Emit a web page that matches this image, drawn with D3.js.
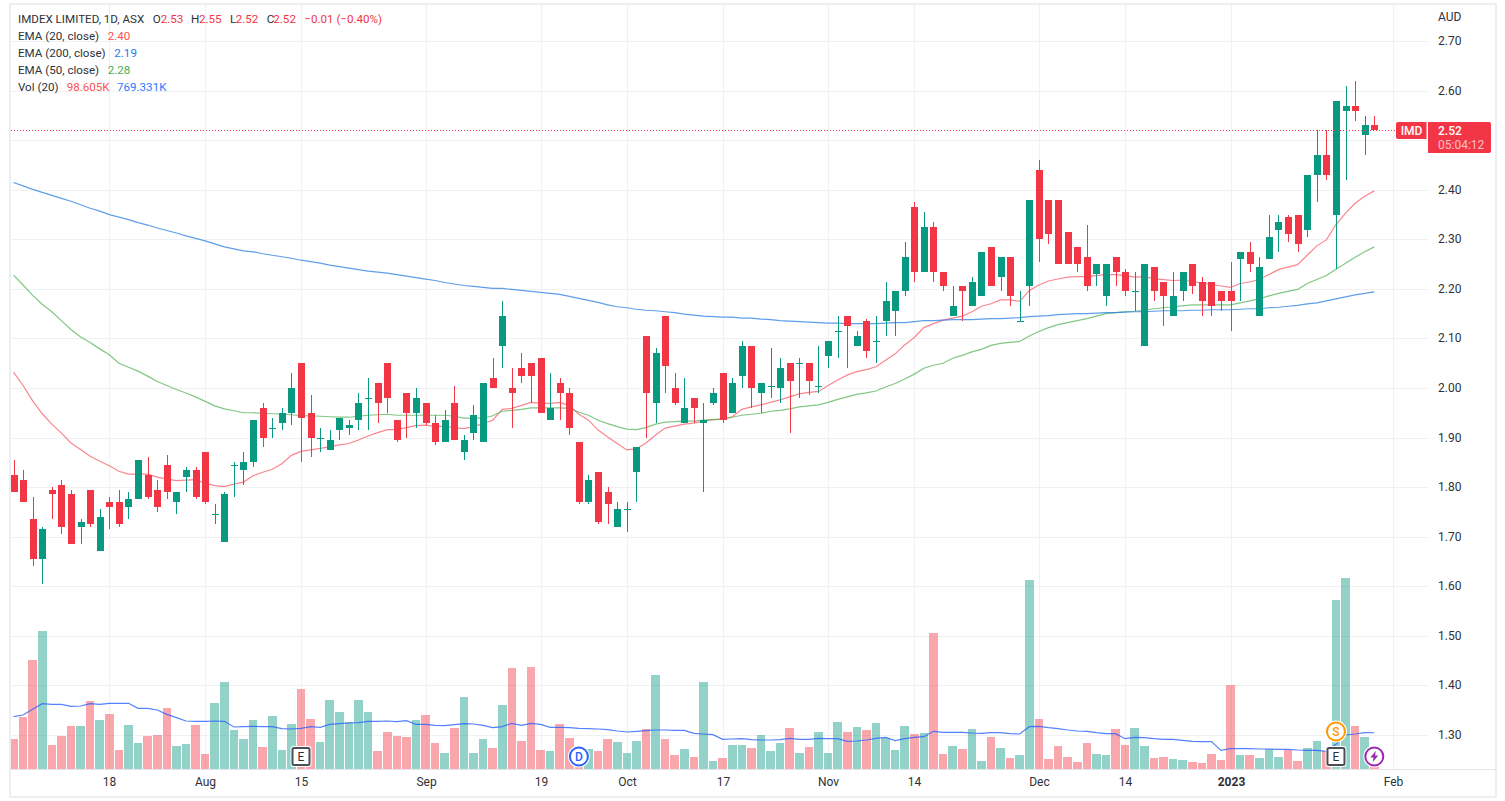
<!DOCTYPE html>
<html>
<head>
<meta charset="utf-8">
<title>IMDEX LIMITED, 1D, ASX</title>
<script src="https://cdnjs.cloudflare.com/ajax/libs/d3/7.8.5/d3.min.js"></script>
<style>
  html, body { margin: 0; padding: 0; background: #fff; overflow: hidden; }
  text { font-family: Roboto, "Open Sans", sans-serif; font-size: 12px; fill: #2e3238; }
  .axis .domain { display: none; }
  .axis line { stroke: #f0f1f3; shape-rendering: crispEdges; }
</style>
</head>
<body>
<div id="chart"></div>
<script>
// daily prices, one entry per trading day
var opens = [
  1.825,1.815,1.735,1.655,1.795,1.805,1.785,1.72,1.795,1.67,
  1.77,1.77,1.76,1.775,1.825,1.795,1.845,1.77,1.82,1.835,
  1.87,1.745,1.69,1.845,1.835,1.85,1.96,1.92,1.93,1.95,
  2.05,1.95,1.90,1.875,1.915,1.92,1.935,1.98,2.01,2.05,
  1.935,1.99,1.95,1.97,1.93,1.89,1.97,1.87,1.91,1.89,
  2.02,2.085,2.00,2.04,2.05,2.06,1.935,2.01,1.99,1.89,
  1.77,1.83,1.79,1.72,1.755,1.83,2.105,1.97,2.145,2.00,
  1.93,1.98,1.93,1.97,2.03,1.95,2.025,2.085,1.99,2.005,
  2.00,2.05,2.05,2.05,2.005,2.065,2.115,2.145,2.085,2.135,
  2.095,2.135,2.155,2.195,2.365,2.235,2.325,2.235,2.145,2.205,
  2.165,2.185,2.285,2.225,2.265,2.135,2.205,2.44,2.38,2.38,
  2.315,2.285,2.265,2.23,2.185,2.265,2.235,2.195,2.085,2.245,
  2.215,2.145,2.195,2.25,2.215,2.215,2.195,2.195,2.26,2.275,
  2.145,2.26,2.32,2.345,2.35,2.32,2.43,2.47,2.35,2.56,
  2.57,2.51,2.53];
var highs = [
  1.855,1.835,1.78,1.72,1.80,1.815,1.795,1.735,1.795,1.755,
  1.78,1.795,1.79,1.855,1.86,1.815,1.865,1.79,1.84,1.84,
  1.87,1.765,1.79,1.85,1.87,1.935,1.97,1.94,1.96,2.03,
  2.05,1.985,1.92,1.915,1.94,1.935,1.99,2.02,2.01,2.05,
  1.935,1.99,2.00,1.97,1.945,1.955,2.005,1.905,1.965,2.01,
  2.06,2.175,2.04,2.07,2.05,2.06,2.03,2.02,2.00,1.89,
  1.825,1.83,1.80,1.77,1.77,1.88,2.105,2.08,2.145,2.03,
  2.02,1.98,1.97,2.00,2.03,2.02,2.095,2.085,2.01,2.08,
  2.06,2.05,2.06,2.05,2.085,2.095,2.145,2.145,2.115,2.14,
  2.145,2.215,2.195,2.295,2.375,2.355,2.335,2.235,2.205,2.205,
  2.225,2.275,2.285,2.265,2.265,2.195,2.38,2.46,2.38,2.38,
  2.315,2.285,2.33,2.25,2.25,2.265,2.24,2.235,2.25,2.245,
  2.215,2.235,2.235,2.25,2.225,2.215,2.195,2.255,2.275,2.295,
  2.265,2.35,2.35,2.35,2.35,2.43,2.52,2.52,2.58,2.61,
  2.62,2.55,2.55];
var lows = [
  1.79,1.77,1.64,1.605,1.735,1.705,1.685,1.685,1.72,1.67,
  1.715,1.72,1.735,1.775,1.775,1.75,1.775,1.745,1.79,1.775,
  1.765,1.725,1.69,1.78,1.805,1.84,1.88,1.90,1.915,1.925,
  1.85,1.86,1.87,1.875,1.895,1.905,1.915,1.915,1.93,1.95,
  1.89,1.90,1.92,1.925,1.885,1.89,1.895,1.855,1.895,1.89,
  2.00,2.04,1.92,2.01,1.97,1.95,1.935,1.935,1.905,1.765,
  1.765,1.725,1.725,1.72,1.71,1.77,1.90,1.93,1.99,1.965,
  1.93,1.93,1.79,1.965,1.93,1.95,2.00,1.96,1.95,1.98,
  1.97,1.91,1.98,1.985,1.99,2.04,2.06,2.04,2.085,2.06,
  2.05,2.105,2.105,2.185,2.215,2.235,2.215,2.195,2.145,2.135,
  2.165,2.185,2.205,2.195,2.165,2.135,2.165,2.255,2.29,2.25,
  2.25,2.235,2.195,2.205,2.165,2.205,2.185,2.155,2.085,2.175,
  2.125,2.145,2.175,2.19,2.145,2.145,2.155,2.115,2.175,2.235,
  2.145,2.26,2.275,2.295,2.275,2.305,2.375,2.42,2.24,2.42,
  2.54,2.47,2.52];
var closes = [
  1.79,1.77,1.655,1.715,1.785,1.72,1.685,1.73,1.725,1.74,
  1.76,1.725,1.775,1.855,1.78,1.76,1.79,1.79,1.835,1.78,
  1.77,1.745,1.785,1.845,1.85,1.935,1.90,1.92,1.95,2.00,
  1.94,1.90,1.90,1.895,1.94,1.925,1.97,1.98,1.97,1.98,
  1.895,1.95,1.98,1.93,1.89,1.935,1.895,1.895,1.945,2.01,
  2.00,2.145,1.99,2.025,2.025,1.95,1.96,1.99,1.92,1.77,
  1.815,1.73,1.765,1.755,1.755,1.88,1.99,2.07,2.045,1.97,
  1.96,1.96,1.935,1.99,1.935,2.01,2.085,2.00,2.01,2.005,
  2.04,2.015,2.05,2.015,2.005,2.095,2.115,2.125,2.105,2.075,
  2.095,2.175,2.195,2.265,2.235,2.325,2.235,2.205,2.165,2.195,
  2.215,2.275,2.205,2.265,2.185,2.135,2.38,2.30,2.31,2.25,
  2.25,2.25,2.205,2.25,2.25,2.235,2.195,2.195,2.25,2.195,
  2.185,2.185,2.235,2.205,2.175,2.165,2.175,2.175,2.275,2.25,
  2.245,2.305,2.335,2.31,2.29,2.43,2.47,2.43,2.58,2.57,
  2.56,2.53,2.52];

// volume in thousands
var volumes = [
  636,1103,2312,2927,509,700,912,912,1442,1039,
  1167,403,933,551,700,721,1294,488,530,933,
  318,1400,1845,827,636,1039,467,1124,403,954,
  1697,1061,573,1463,1209,997,1463,1209,382,785,
  700,679,1039,1145,551,339,870,1527,339,636,
  445,1357,2142,594,2163,403,382,954,657,332,
  424,382,636,573,339,594,848,1994,636,297,
  424,255,1845,170,233,509,509,445,721,382,
  551,870,339,467,785,339,997,785,891,827,
  976,657,403,912,742,764,2885,318,488,424,
  848,170,679,445,233,297,4009,1061,212,488,
  255,148,551,318,297,848,509,870,488,233,
  255,212,191,148,127,318,191,1782,297,297,
  233,424,255,403,170,445,594,382,3585,4051,
  912,679,99];
var volumeMa = [
  1110,1145,1266,1386,1372,1372,1329,1336,1386,1372,
  1393,1393,1393,1287,1287,1251,1159,1089,1018,1011,
  1011,1018,1011,891,898,905,898,898,855,848,
  863,898,884,947,962,976,983,1011,1011,1018,
  1004,1025,947,947,926,919,940,962,954,926,
  877,898,969,926,969,947,884,884,877,863,
  855,848,834,806,785,799,813,827,827,820,
  820,756,742,728,629,636,643,622,615,615,
  622,650,629,629,650,643,643,587,594,615,
  650,672,601,643,672,686,799,778,778,778,
  764,756,771,771,749,742,898,905,877,855,
  827,806,799,771,749,749,643,672,665,643,
  629,629,608,587,580,580,396,431,431,431,
  424,424,417,417,403,396,396,375,523,721,
  742,771,769];

var ema20 = [
  2.032,2.005,1.974,1.948,1.927,1.909,1.889,1.876,1.862,1.852,
  1.843,1.832,1.826,1.826,1.826,1.820,1.816,1.813,1.814,1.815,
  1.808,1.803,1.801,1.806,1.810,1.823,1.830,1.836,1.847,1.864,
  1.872,1.875,1.878,1.881,1.885,1.888,1.895,1.903,1.910,1.916,
  1.916,1.920,1.924,1.925,1.922,1.923,1.920,1.918,1.922,1.928,
  1.935,1.957,1.959,1.965,1.971,1.969,1.969,1.971,1.965,1.947,
  1.935,1.915,1.901,1.888,1.875,1.877,1.889,1.905,1.919,1.923,
  1.927,1.929,1.933,1.936,1.937,1.942,1.957,1.962,1.966,1.971,
  1.976,1.982,1.988,1.991,1.993,2.005,2.016,2.026,2.033,2.037,
  2.043,2.056,2.069,2.087,2.102,2.122,2.130,2.137,2.141,2.145,
  2.154,2.165,2.170,2.178,2.178,2.175,2.197,2.208,2.216,2.220,
  2.224,2.225,2.225,2.227,2.229,2.229,2.227,2.224,2.225,2.221,
  2.219,2.217,2.218,2.215,2.212,2.209,2.206,2.203,2.211,2.214,
  2.219,2.229,2.239,2.244,2.249,2.268,2.287,2.299,2.330,2.353,
  2.373,2.387,2.398];
var ema50 = [
  2.228,2.208,2.187,2.169,2.154,2.136,2.118,2.103,2.092,2.079,
  2.067,2.050,2.042,2.034,2.024,2.013,2.005,1.997,1.990,1.982,
  1.973,1.964,1.958,1.954,1.950,1.950,1.949,1.948,1.947,1.946,
  1.944,1.944,1.943,1.942,1.941,1.941,1.943,1.945,1.946,1.947,
  1.945,1.945,1.945,1.945,1.945,1.945,1.943,1.939,1.939,1.939,
  1.944,1.953,1.955,1.957,1.960,1.960,1.960,1.960,1.959,1.951,
  1.945,1.935,1.928,1.922,1.917,1.916,1.920,1.927,1.931,1.932,
  1.933,1.933,1.935,1.936,1.937,1.941,1.945,1.947,1.949,1.953,
  1.955,1.958,1.962,1.964,1.966,1.971,1.977,1.982,1.987,1.990,
  1.994,2.002,2.009,2.018,2.028,2.040,2.046,2.050,2.060,2.066,
  2.073,2.078,2.086,2.090,2.092,2.094,2.105,2.114,2.122,2.128,
  2.132,2.136,2.140,2.145,2.150,2.152,2.154,2.155,2.157,2.160,
  2.162,2.164,2.166,2.168,2.168,2.168,2.168,2.168,2.172,2.176,
  2.180,2.186,2.191,2.195,2.199,2.211,2.219,2.227,2.240,2.252,
  2.264,2.275,2.285];
var ema200 = [
  2.415,2.408,2.401,2.395,2.389,2.383,2.377,2.370,2.363,2.357,
  2.350,2.345,2.340,2.334,2.329,2.323,2.318,2.313,2.307,2.302,
  2.297,2.291,2.285,2.281,2.277,2.275,2.271,2.268,2.265,2.262,
  2.258,2.255,2.252,2.248,2.245,2.242,2.239,2.236,2.234,2.232,
  2.229,2.226,2.223,2.220,2.217,2.213,2.210,2.207,2.205,2.203,
  2.201,2.201,2.199,2.197,2.195,2.193,2.191,2.189,2.185,2.181,
  2.177,2.173,2.168,2.164,2.162,2.159,2.157,2.156,2.154,2.152,
  2.149,2.147,2.145,2.144,2.143,2.143,2.141,2.141,2.139,2.138,
  2.136,2.135,2.134,2.133,2.132,2.131,2.131,2.130,2.130,2.130,
  2.130,2.131,2.132,2.132,2.134,2.136,2.136,2.137,2.138,2.138,
  2.138,2.139,2.140,2.140,2.141,2.142,2.144,2.145,2.146,2.148,
  2.149,2.150,2.150,2.151,2.152,2.152,2.153,2.154,2.154,2.155,
  2.156,2.156,2.156,2.157,2.157,2.158,2.158,2.158,2.159,2.160,
  2.160,2.162,2.163,2.165,2.167,2.170,2.172,2.176,2.180,2.184,
  2.188,2.191,2.194];

var priceTicks = [2.70,2.60,2.50,2.40,2.30,2.20,2.10,2.00,1.90,1.80,1.70,1.60,1.50,1.40,1.30];
var timeTickBars = [10,20,30,43,55,64,74,85,94,107,116,127,144];
var timeTickLabels = ["18","Aug","15","Sep","19","Oct","17","Nov","14","Dec","14","2023","Feb"];
var lastClose = 2.52;

var upColor = "#089981", downColor = "#f23645";

var width = 1505, height = 801;
var svg = d3.select("#chart").append("svg")
    .attr("width", width)
    .attr("height", height)
    .style("display", "block");

var x = d3.scaleLinear().domain([0, 142]).range([13.5, 1374.3]);
var y = d3.scaleLinear().domain([1.30, 2.70]).range([734.7, 41.3]);
var yVol = d3.scaleLinear().domain([0, 4051]).range([769, 578]);

var bars = d3.range(closes.length);
var isUp = function(i) { return closes[i] >= opens[i]; };

// frame
svg.append("rect")
    .attr("x", 10).attr("y", 4)
    .attr("width", 1486).attr("height", 793)
    .attr("fill", "#fff")
    .attr("stroke", "#eceef3")
    .attr("stroke-width", 2);

svg.append("defs").append("clipPath").attr("id", "pane")
  .append("rect").attr("x", 11).attr("y", 5).attr("width", 1417).attr("height", 764);

// gridlines come with the axes
var priceAxis = d3.axisRight(y)
    .tickValues(priceTicks)
    .tickFormat(d3.format(".2f"))
    .tickSize(-1417)
    .tickPadding(10);
var gPrice = svg.append("g").attr("class", "axis")
    .attr("transform", "translate(1428,0)")
    .call(priceAxis);
gPrice.selectAll(".tick").attr("transform", function(d) { return "translate(0," + (Math.round(y(d)) + 0.5) + ")"; });
// the last price tag sits on top of this label
gPrice.selectAll(".tick text").filter(function(d) { return d === 2.50; }).remove();

var timeAxis = d3.axisBottom(x)
    .tickValues(timeTickBars)
    .tickFormat(function(d, i) { return timeTickLabels[i]; })
    .tickSize(-764)
    .tickPadding(8);
var gTime = svg.append("g").attr("class", "axis")
    .attr("transform", "translate(0,769)")
    .call(timeAxis);
gTime.selectAll(".tick").attr("transform", function(d) { return "translate(" + (Math.round(x(d)) + 0.5) + ",0)"; });
gTime.selectAll("text").style("font-weight", function(d) { return d === 127 ? "700" : null; });

svg.selectAll(".axis text").attr("font-size", 12);

svg.append("line")
    .attr("x1", 10).attr("x2", 1496).attr("y1", 769.5).attr("y2", 769.5)
    .attr("stroke", "#e3e5ec");

svg.append("text").attr("x", 1438).attr("y", 21).text("AUD");

var pane = svg.append("g").attr("clip-path", "url(#pane)");

// volume
pane.selectAll("rect.vol")
    .data(bars)
  .enter().append("rect")
    .attr("class", "vol")
    .attr("x", function(i) { return x(i) - 4.3; })
    .attr("width", 8.6)
    .attr("y", function(i) { return yVol(volumes[i]); })
    .attr("height", function(i) { return yVol(0) - yVol(volumes[i]); })
    .attr("fill", function(i) { return isUp(i) ? upColor : downColor; })
    .attr("fill-opacity", 0.44)
    .attr("shape-rendering", "crispEdges");

var volLine = d3.line()
    .x(function(d, i) { return x(i); })
    .y(function(d) { return yVol(d); });
var priceLine = d3.line()
    .x(function(d, i) { return x(i); })
    .y(function(d) { return y(d); });

pane.append("path").attr("d", volLine(volumeMa))
    .attr("fill", "none").attr("stroke", "#2962ff").attr("stroke-opacity", 0.8).attr("stroke-width", 1.2);
pane.append("path").attr("d", priceLine(ema20))
    .attr("fill", "none").attr("stroke", "#f7525f").attr("stroke-opacity", 0.7).attr("stroke-width", 1.2);
pane.append("path").attr("d", priceLine(ema50))
    .attr("fill", "none").attr("stroke", "#4caf50").attr("stroke-opacity", 0.7).attr("stroke-width", 1.2);
pane.append("path").attr("d", priceLine(ema200))
    .attr("fill", "none").attr("stroke", "#2a7de1").attr("stroke-opacity", 0.75).attr("stroke-width", 1.2);

// candles
var candle = pane.selectAll("g.candle")
    .data(bars)
  .enter().append("g")
    .attr("class", "candle")
    .attr("fill", function(i) { return isUp(i) ? upColor : downColor; })
    .attr("shape-rendering", "crispEdges");
candle.append("rect")
    .attr("x", function(i) { return Math.round(x(i)) - 0.5; })
    .attr("width", 1)
    .attr("y", function(i) { return y(highs[i]); })
    .attr("height", function(i) { return y(lows[i]) - y(highs[i]); });
candle.append("rect")
    .attr("x", function(i) { return Math.round(x(i)) - 3.5; })
    .attr("width", 7)
    .attr("y", function(i) { return y(Math.max(opens[i], closes[i])); })
    .attr("height", function(i) { return Math.max(1, Math.abs(y(opens[i]) - y(closes[i]))); });

// last price line and tags
var tagY = Math.round(y(lastClose));
svg.append("line")
    .attr("x1", 11).attr("x2", 1396)
    .attr("y1", tagY + 0.5).attr("y2", tagY + 0.5)
    .attr("stroke", downColor)
    .attr("stroke-dasharray", "1,2");

svg.append("path")
    .attr("d", "M1398," + (tagY - 8) + "H1426.5V" + (tagY + 9) + "H1398a2,2 0 0 1 -2,-2V" + (tagY - 6) + "a2,2 0 0 1 2,-2Z")
    .attr("fill", downColor);
svg.append("path")
    .attr("d", "M1428," + (tagY - 8) + "H1489a2,2 0 0 1 2,2V" + (tagY + 21) + "a2,2 0 0 1 -2,2H1428Z")
    .attr("fill", downColor);
svg.append("text").attr("x", 1411.5).attr("y", tagY + 5).attr("text-anchor", "middle")
    .style("fill", "#fff").style("font-weight", 500).text("IMD");
svg.append("text").attr("x", 1438).attr("y", tagY + 5)
    .style("fill", "#fff").style("font-weight", 500).text("2.52");
svg.append("text").attr("x", 1438).attr("y", tagY + 19)
    .style("fill", "#fff").style("fill-opacity", 0.7).text("05:04:12");

// legend
var legendRows = [
  { y: 23, parts: [["IMDEX LIMITED, 1D, ASX", 18, null], ["O", 152.7, null], ["2.53", 160.7, downColor],
    ["H", 191, null], ["2.55", 199, downColor], ["L", 230, null], ["2.52", 235.7, downColor],
    ["C", 266.7, null], ["2.52", 273.3, downColor], ["\u22120.01 (\u22120.40%)", 304.3, downColor]] },
  { y: 40, parts: [["EMA (20, close)", 18, null], ["2.40", 107.7, "#ff5252"]] },
  { y: 57, parts: [["EMA (200, close)", 18, null], ["2.19", 114.3, "#2979e8"]] },
  { y: 74, parts: [["EMA (50, close)", 18, null], ["2.28", 107.7, "#4caf50"]] },
  { y: 91, parts: [["Vol (20)", 18, null], ["98.605K", 66.7, "#ff5252"], ["769.331K", 117, "#2979ff"]] }
];
legendRows.forEach(function(row) {
  row.parts.forEach(function(p) {
    var t = svg.append("text").attr("x", p[1]).attr("y", row.y).style("font-size", "11.6px").text(p[0]);
    if (p[2]) t.style("fill", p[2]);
  });
});

// event markers
function squareMark(bar, cy, label) {
  var g = svg.append("g").attr("transform", "translate(" + x(bar) + "," + cy + ")");
  g.append("rect").attr("x", -10.5).attr("y", -10.5).attr("width", 21).attr("height", 21).attr("rx", 3).attr("fill", "#fff");
  g.append("rect").attr("x", -8.5).attr("y", -8.5).attr("width", 17).attr("height", 17).attr("rx", 1.5)
      .attr("fill", "#fff").attr("stroke", "#4a4e57").attr("stroke-width", 2);
  g.append("text").attr("text-anchor", "middle").attr("y", 4.5).text(label);
}
function circleMark(bar, cy, label, color) {
  var g = svg.append("g").attr("transform", "translate(" + x(bar) + "," + cy + ")");
  g.append("circle").attr("r", 11).attr("fill", "#fff");
  g.append("circle").attr("r", 9).attr("fill", "#fff").attr("stroke", color).attr("stroke-width", 2);
  if (label) {
    g.append("text").attr("text-anchor", "middle").attr("y", 4.5).style("fill", color).style("font-weight", 500).text(label);
  }
  return g;
}
squareMark(30, 756.5, "E");
squareMark(138, 756.5, "E");
circleMark(59, 756.5, "D", "#2962ff");
circleMark(138, 731.5, "S", "#ff9800");
circleMark(142, 756.5, null, "#9c27b0")
  .append("path")
    .attr("d", "M1.5,-5.5L-4,1H-0.8L-1.5,5.5L4,-1H0.8Z")
    .attr("fill", "#9c27b0");
</script>
</body>
</html>
